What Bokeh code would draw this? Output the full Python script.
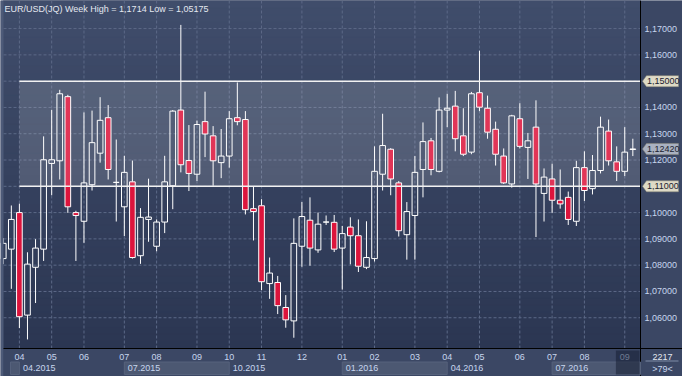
import numpy as np
from bokeh.plotting import figure
from bokeh.models import Range1d
from bokeh.core.properties import value
from bokeh.embed import file_html
from bokeh.resources import INLINE

# ---------------- data (weekly EUR/USD candles) ----------------
opens = [1.0825, 1.0861, 1.1000, 1.0610, 1.0792, 1.0861, 1.1187, 1.1197, 1.1441, 1.1000,
         1.0967, 1.1106, 1.1226, 1.1361, 1.1115, 1.1022, 1.1117, 1.0836, 1.0974, 1.0872,
         1.0964, 1.1102, 1.1390, 1.1198, 1.1146, 1.1346, 1.1292, 1.1190, 1.1215, 1.1361,
         1.1354, 1.1015, 1.1026, 1.0730, 1.0734, 1.0639, 1.0588, 1.0872, 1.0971, 1.0858,
         1.0964, 1.0963, 1.0865, 1.0945, 1.0912, 1.0792, 1.0825, 1.1146, 1.1241, 1.1113,
         1.0916, 1.0989, 1.1164, 1.1273, 1.1157, 1.1390, 1.1405, 1.1292, 1.1230, 1.1456,
         1.1397, 1.1317, 1.1215, 1.1109, 1.1357, 1.1248, 1.1325, 1.1073, 1.1128, 1.1047,
         1.1058, 1.0967, 1.1171, 1.1091, 1.1160, 1.1310, 1.1193, 1.1157, 1.1240]
highs = [1.0903, 1.1027, 1.1034, 1.0849, 1.0899, 1.1290, 1.1391, 1.1467, 1.1448, 1.1007,
         1.1381, 1.1388, 1.1439, 1.1409, 1.1278, 1.1216, 1.1198, 1.1017, 1.1129, 1.0974,
         1.1216, 1.1390, 1.1714, 1.1333, 1.1350, 1.1460, 1.1329, 1.1318, 1.1386, 1.1495,
         1.1386, 1.1098, 1.1051, 1.0829, 1.0759, 1.0686, 1.0978, 1.1040, 1.1058, 1.1000,
         1.0989, 1.0991, 1.0949, 1.0982, 1.0974, 1.0967, 1.1252, 1.1376, 1.1245, 1.1120,
         1.1040, 1.1215, 1.1343, 1.1284, 1.1438, 1.1452, 1.1463, 1.1397, 1.1459, 1.1616,
         1.1445, 1.1346, 1.1244, 1.1372, 1.1416, 1.1303, 1.1427, 1.1168, 1.1186, 1.1164,
         1.1080, 1.1197, 1.1233, 1.1219, 1.1365, 1.1354, 1.1252, 1.1325, 1.1281]
lows = [1.0804, 1.0710, 1.0561, 1.05175, 1.0656, 1.0816, 1.1066, 1.1126, 1.0999, 1.0816,
        1.0885, 1.1084, 1.1190, 1.1126, 1.0966, 1.0911, 1.0825, 1.0805, 1.0889, 1.0853,
        1.0922, 1.1013, 1.1153, 1.1082, 1.1120, 1.1211, 1.1102, 1.1131, 1.1171, 1.1332,
        1.0993, 1.0894, 1.0705, 1.0672, 1.0614, 1.0562, 1.0524, 1.0794, 1.0798, 1.0847,
        1.0953, 1.0850, 1.0707, 1.0803, 1.0774, 1.0785, 1.0814, 1.1084, 1.1066, 1.0909,
        1.0821, 1.0821, 1.1058, 1.1142, 1.1153, 1.1325, 1.1233, 1.1215, 1.1222, 1.1386,
        1.1281, 1.1179, 1.1109, 1.1095, 1.1244, 1.1128, 1.0907, 1.0966, 1.0999, 1.1015,
        1.0953, 1.0949, 1.1044, 1.1069, 1.1149, 1.1179, 1.1120, 1.1139, 1.1215]
closes = [1.0883, 1.0974, 1.0604, 1.0804, 1.0865, 1.1201, 1.1201, 1.1452, 1.1022, 1.0989,
          1.1113, 1.1266, 1.1351, 1.1164, 1.1115, 1.1153, 1.0829, 1.0982, 1.0983, 1.0964,
          1.1117, 1.1386, 1.1182, 1.1149, 1.1335, 1.1299, 1.1197, 1.1215, 1.1357, 1.1346,
          1.1011, 1.1004, 1.0737, 1.0770, 1.0646, 1.0592, 1.0883, 1.0985, 1.0865, 1.0956,
          1.0964, 1.0861, 1.0920, 1.0912, 1.0796, 1.0829, 1.1157, 1.1255, 1.1128, 1.0931,
          1.1004, 1.1153, 1.1270, 1.1164, 1.1390, 1.1397, 1.1281, 1.1222, 1.1452, 1.1401,
          1.1306, 1.1222, 1.1113, 1.1368, 1.1252, 1.1273, 1.1109, 1.1135, 1.1047, 1.1033,
          1.0974, 1.1171, 1.1084, 1.1160, 1.1325, 1.1197, 1.1157, 1.1230, 1.1242]

month_ticks = [2, 6, 10, 15, 19, 24, 28, 32, 37, 42, 46, 51, 55, 59, 64, 68, 72, 77]
month_labels = ["04", "05", "06", "07", "08", "09", "10", "11", "12",
                "01", "02", "03", "04", "05", "06", "07", "08", "09"]
quarter_ticks = [2, 15, 28, 42, 55, 68]
quarter_labels = ["04.2015", "07.2015", "10.2015", "01.2016", "04.2016", "07.2016"]
grid_levels = [1.06, 1.07, 1.08, 1.09, 1.10, 1.11, 1.12, 1.13, 1.14, 1.15, 1.16, 1.17]
price_ticks = [1.06, 1.07, 1.08, 1.09, 1.10, 1.12, 1.13, 1.14, 1.16, 1.17]
levels = [1.15, 1.11]
last_price = 1.1242
title_text = "EUR/USD(JQ) Week High = 1,1714 Low = 1,05175"
bars_total = "2217"
bars_shown = ">79<"

# ---------------- layout (pixels) ----------------
W, H = 682, 376
LEFT_PX, RIGHT_PX, TOP_PX, BOTTOM_PX = 3, 42, 1, 28
X0, X1 = 0.03, 78.95          # visible bar-index range of the price area
Y0, Y1 = 1.0483, 1.1803       # visible price range of the price area
sx = (W - LEFT_PX - RIGHT_PX) / (X1 - X0)
sy = (H - TOP_PX - BOTTOM_PX) / (Y1 - Y0)
def dx(n):
    return n / sx
def dy(n):
    return n / sy
XS, XE = X0 - dx(LEFT_PX), X1 + dx(RIGHT_PX)
YS, YE = Y0 - dy(BOTTOM_PX), Y1 + dy(TOP_PX)

FONT = "Liberation Sans"
FS = "9px"
TXT = "#c7d6ee"
RED = "#dc143c"
PANEL = "#3b4764"

p = figure(width=W, height=H, x_range=Range1d(XS, XE), y_range=Range1d(YS, YE),
           x_axis_location=None, y_axis_location=None, output_backend="svg",
           toolbar_location=None, min_border=0)
p.grid.visible = False
p.outline_line_color = None
p.background_fill_color = PANEL
p.border_fill_color = PANEL

def fmt(v):
    return ("%.5f" % v).replace(".", ",")

# vertical gradient background of the price area
n = 48
edges = np.linspace(Y0, YE, n + 1)
top_c = np.array([0x40, 0x4d, 0x6b])
bot_c = np.array([0x2b, 0x36, 0x52])
cols = []
for k in range(n):
    t = (k + 0.5) / n
    cc = bot_c + (top_c - bot_c) * t
    cols.append("#%02x%02x%02x" % tuple(int(round(v)) for v in cc))
p.quad(left=X0, right=X1, bottom=edges[:-1], top=edges[1:],
       fill_color=cols, line_color=cols, level="image")

# dashed grid
GRID = "#5c6987"
p.segment(x0=month_ticks, y0=[Y0] * len(month_ticks), x1=month_ticks, y1=[YE] * len(month_ticks),
          line_color=GRID, line_dash="3 2", line_width=1, level="underlay")
p.segment(x0=[X0] * len(grid_levels), y0=grid_levels, x1=[X1] * len(grid_levels), y1=grid_levels,
          line_color=GRID, line_dash="3 2", line_width=1, level="underlay")

# candles
o = np.array(opens); h = np.array(highs); l = np.array(lows); c = np.array(closes)
idx = np.arange(len(o))
btop = np.maximum(o, c)
bbot = np.minimum(o, c)
up = c >= o
p.segment(x0=idx, y0=h, x1=idx, y1=btop, line_color="white", line_width=1)
p.segment(x0=idx, y0=bbot, x1=idx, y1=l, line_color="white", line_width=1)
p.vbar(x=idx, width=0.7, top=btop, bottom=bbot, fill_color=RED,
       fill_alpha=np.where(up, 0.0, 1.0), line_color="white", line_width=1)

# range band and its limit lines
band_start = month_ticks[0]
p.quad(left=[band_start], right=[X1], bottom=[min(levels)], top=[max(levels)],
       fill_color="white", fill_alpha=0.14, line_color=None)
p.segment(x0=[band_start] * len(levels), y0=levels, x1=[X1] * len(levels), y1=levels,
          line_color="#f2f2f2", line_width=1.5)

# side panels (left strip, right scale, bottom time scale)
p.quad(left=[XS], right=[X0], bottom=[YS], top=[YE], fill_color="#4d5a78", line_color=None)
p.quad(left=[X1], right=[XE], bottom=[YS], top=[YE], fill_color=PANEL, line_color=None)
p.quad(left=[X0], right=[X1], bottom=[YS], top=[Y0], fill_color=PANEL, line_color=None)
p.segment(x0=[X1], y0=[YS], x1=[X1], y1=[YE], line_color="black", line_width=1)
p.segment(x0=[X0], y0=[Y0], x1=[XE], y1=[Y0], line_color="black", line_width=1)

# right price scale labels
p.text(x=[X1 + dx(4)] * len(price_ticks), y=price_ticks, text=[fmt(t) for t in price_ticks],
       text_font=value(FONT), text_font_size=value(FS), text_color=TXT,
       text_align="left", text_baseline="middle")

# price tags
hh = dy(5.5)
tag_vals = levels + [last_price]
tag_fill = ["#dedac6"] * len(levels) + ["#a9b1c1"]
xs = [[X1 + dx(2), X1 + dx(6), X1 + dx(38), X1 + dx(38), X1 + dx(6)] for _ in tag_vals]
ys = [[v, v + hh, v + hh, v - hh, v - hh] for v in tag_vals]
p.patches(xs=xs, ys=ys, fill_color=tag_fill, line_color="#8e8a78", line_width=0.5)
p.text(x=[X1 + dx(6.5)] * len(tag_vals), y=tag_vals, text=[fmt(v) for v in tag_vals],
       text_font=value(FONT), text_font_size=value(FS), text_color="#1c2230",
       text_align="left", text_baseline="middle")

# bottom time scale: quarter boxes, month labels, quarter labels
qb_top, qb_bot = Y0 - dy(13.5), Y0 - dy(26)
box_l = [quarter_ticks[0] - 1.1, quarter_ticks[1], quarter_ticks[3], quarter_ticks[5]]
box_r = [quarter_ticks[0], quarter_ticks[2], quarter_ticks[4], X1]
p.quad(left=box_l, right=box_r, bottom=[qb_bot] * 4, top=[qb_top] * 4,
       fill_color="#4c5872", line_color="#56627c", line_width=1)
p.text(x=month_ticks, y=[Y0 - dy(8.6)] * len(month_ticks), text=month_labels,
       text_font=value(FONT), text_font_size=value(FS), text_color=TXT,
       text_align="center", text_baseline="middle")
p.text(x=[t + dx(3.5) for t in quarter_ticks], y=[Y0 - dy(19.5)] * len(quarter_ticks),
       text=quarter_labels, text_font=value(FONT), text_font_size=value(FS), text_color=TXT,
       text_align="left", text_baseline="middle")
# current-month shade
p.quad(left=[month_ticks[-1] - 1.1], right=[X1 - dx(1)], bottom=[qb_bot], top=[Y0 - dy(2)],
       fill_color="#121a2e", fill_alpha=0.5, line_color=None)

# bottom-right counters
p.text(x=[X1 + dx(22)], y=[Y0 - dy(8.6)], text=[bars_total], text_font=value(FONT),
       text_font_size=value(FS), text_color="#e4e8f0", text_align="center",
       text_baseline="middle")
p.segment(x0=[X1 + dx(5)], y0=[Y0 - dy(12.5)], x1=[X1 + dx(38)], y1=[Y0 - dy(12.5)],
          line_color="#7f8ca6", line_width=1)
p.text(x=[X1 + dx(22)], y=[Y0 - dy(20)], text=[bars_shown], text_font=value(FONT),
       text_font_size=value(FS), text_color=TXT, text_align="center",
       text_baseline="middle")

# title
p.text(x=[X0 + dx(1)], y=[Y1 - dy(2)], text=[title_text], text_font=value(FONT),
       text_font_size=value(FS), text_color="#e4e8f0", text_align="left",
       text_baseline="top")

open("out.html", "w").write(file_html(p, INLINE))
